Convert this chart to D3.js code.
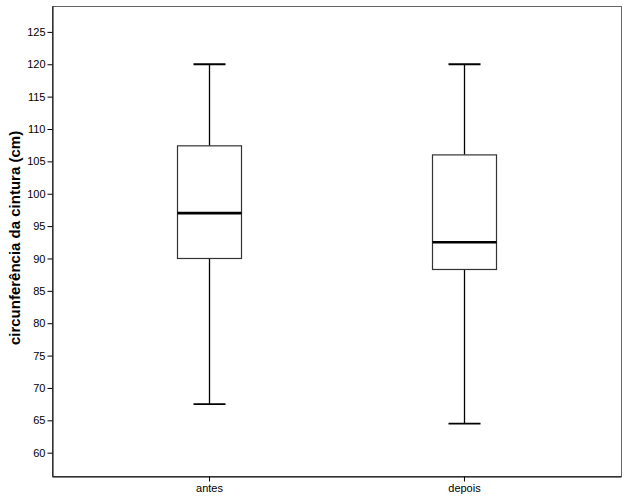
<!DOCTYPE html>
<html>
<head>
<meta charset="utf-8">
<script src="https://cdn.jsdelivr.net/npm/d3@7"></script>
<style>
  body { margin: 0; background: #fff; }
  svg { display: block; }
</style>
</head>
<body>
<svg id="chart" width="629" height="504"></svg>
<script>
// box plot values
const groups = ['antes', 'depois'];
const whiskerLow = [67.5, 64.5];
const q1 = [90, 88.3];
const median = [97, 92.5];
const q3 = [107.4, 106];
const whiskerHigh = [120, 120];
const yTicks = [60, 65, 70, 75, 80, 85, 90, 95, 100, 105, 110, 115, 120, 125];

const svg = d3.select('#chart');
const plotLeft = 52, plotRight = 621, plotTop = 6, plotBottom = 476;

const y = d3.scaleLinear().domain([56.4, 129]).range([plotBottom, plotTop]);
const x = d3.scalePoint().domain(groups).range([plotLeft, plotRight]).padding(0.616);

const boxW = 64, capW = 32;
const font = 'Arial, Liberation Sans, sans-serif';

// frame
svg.append('rect')
    .attr('x', plotLeft + 0.5).attr('y', plotTop + 0.5)
    .attr('width', plotRight - plotLeft).attr('height', plotBottom - plotTop)
    .attr('fill', 'none').attr('stroke', '#666').attr('stroke-width', 1);

// y axis
const yAxis = svg.append('g')
    .attr('transform', `translate(${plotLeft + 0.5},0)`)
    .call(d3.axisLeft(y).tickValues(yTicks).tickSize(5).tickSizeOuter(0).tickPadding(2));
yAxis.select('.domain').attr('stroke', '#000');
yAxis.selectAll('text').attr('font-family', font).attr('font-size', 11).attr('fill', '#000');

// x axis
const xAxis = svg.append('g')
    .attr('transform', `translate(0,${plotBottom + 0.5})`)
    .call(d3.axisBottom(x).tickSize(5).tickSizeOuter(0).tickPadding(3));
xAxis.select('.domain').attr('stroke', '#000');
xAxis.selectAll('text').attr('font-family', font).attr('font-size', 11).attr('fill', '#000');

// y label
svg.append('text')
    .attr('transform', `translate(20,${238}) rotate(-90)`)
    .attr('text-anchor', 'middle')
    .attr('font-family', font)
    .attr('font-size', 15).attr('font-weight', 'bold')
    .text('circunferência da cintura (cm)');

// boxes
groups.forEach((g, i) => {
    const cx = Math.round(x(g)) + 0.5;
    const gg = svg.append('g');
    // whiskers
    gg.append('line').attr('x1', cx).attr('x2', cx)
        .attr('y1', y(whiskerHigh[i])).attr('y2', y(q3[i]))
        .attr('stroke', '#000').attr('stroke-width', 1.3);
    gg.append('line').attr('x1', cx).attr('x2', cx)
        .attr('y1', y(q1[i])).attr('y2', y(whiskerLow[i]))
        .attr('stroke', '#000').attr('stroke-width', 1.3);
    // caps
    [whiskerHigh[i], whiskerLow[i]].forEach(v => {
        gg.append('line').attr('x1', cx - capW / 2).attr('x2', cx + capW / 2)
            .attr('y1', y(v)).attr('y2', y(v))
            .attr('stroke', '#000').attr('stroke-width', 1.8);
    });
    // box
    gg.append('rect')
        .attr('x', cx - boxW / 2).attr('y', y(q3[i]))
        .attr('width', boxW).attr('height', y(q1[i]) - y(q3[i]))
        .attr('fill', '#fff').attr('stroke', '#333').attr('stroke-width', 1.2);
    // median
    gg.append('line').attr('x1', cx - boxW / 2).attr('x2', cx + boxW / 2)
        .attr('y1', y(median[i])).attr('y2', y(median[i]))
        .attr('stroke', '#000').attr('stroke-width', 2.6);
});
</script>
</body>
</html>
